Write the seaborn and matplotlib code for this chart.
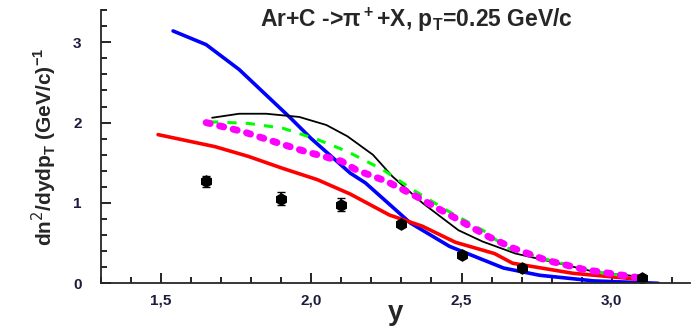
import numpy as np
import pandas as pd
import matplotlib
matplotlib.use("Agg")
import matplotlib.pyplot as plt
import seaborn as sns
from matplotlib.ticker import MultipleLocator, FuncFormatter

# experimental points
exp_y = [1.65, 1.90, 2.10, 2.30, 2.50, 2.70, 3.10]
exp_v = [1.27, 1.05, 0.98, 0.74, 0.35, 0.19, 0.07]
exp_err = [0.07, 0.08, 0.08, 0.04, 0.03, 0.03, 0.02]

# model curves
blue_y = [1.54, 1.65, 1.76, 1.93, 2.00, 2.13, 2.18, 2.33, 2.46, 2.64, 2.76, 2.94, 3.155]
blue_v = [3.14, 2.97, 2.66, 2.06, 1.80, 1.37, 1.25, 0.75, 0.46, 0.19, 0.10, 0.03, 0.0]

black_y = [1.67, 1.76, 1.85, 1.96, 2.05, 2.12, 2.205, 2.27, 2.37, 2.49, 2.57, 2.68, 2.81, 2.94, 3.10]
black_v = [2.06, 2.11, 2.11, 2.07, 1.97, 1.83, 1.60, 1.33, 1.00, 0.66, 0.52, 0.37, 0.26, 0.145, 0.08]

green_y = [1.66, 1.79, 1.905, 2.02, 2.12, 2.24, 2.34, 2.45, 2.58, 2.65, 2.81, 2.98, 3.09]
green_v = [2.01, 1.99, 1.93, 1.79, 1.64, 1.41, 1.16, 0.91, 0.64, 0.44, 0.27, 0.12, 0.08]

magenta_y = [1.65, 1.77, 1.87, 1.98, 2.10, 2.15, 2.25, 2.35, 2.49, 2.59, 2.67, 2.78, 2.91, 3.09, 3.12]
magenta_v = [2.00, 1.89, 1.77, 1.64, 1.52, 1.41, 1.27, 1.08, 0.79, 0.58, 0.44, 0.29, 0.17, 0.07, 0.07]

red_y = [1.49, 1.68, 1.79, 1.905, 2.02, 2.13, 2.26, 2.37, 2.48, 2.61, 2.67, 2.87, 3.09]
red_v = [1.85, 1.70, 1.58, 1.43, 1.29, 1.11, 0.85, 0.71, 0.51, 0.37, 0.25, 0.125, 0.05]

sns.set_style("ticks")
plt.rcParams['font.family'] = ['Liberation Sans', 'DejaVu Sans']

fig = plt.figure(figsize=(6.94, 3.30), dpi=100)
ax = fig.add_axes([0.1455, 0.1415, 0.8485, 0.828])

sns.lineplot(x=blue_y, y=blue_v, color='#0000ff', linewidth=2.6, ax=ax, sort=False)
sns.lineplot(x=red_y, y=red_v, color='#ff0000', linewidth=2.6, ax=ax, sort=False)
sns.lineplot(x=black_y, y=black_v, color='black', linewidth=1.3, ax=ax, sort=False)
ax.plot(green_y, green_v, color='#00ff00', linewidth=2.2, dashes=(3, 3))
ax.plot(magenta_y, magenta_v, color='#ff00ff', linewidth=5, dashes=(0.6, 1.4),
        dash_capstyle='round')
ax.errorbar(exp_y, exp_v, yerr=exp_err, fmt='h', color='black', markersize=8,
            capsize=3, elinewidth=1.2)

ax.set_xlim(1.3, 3.26)
ax.set_ylim(0, 3.4)
ax.xaxis.set_major_locator(MultipleLocator(0.5))
ax.xaxis.set_minor_locator(MultipleLocator(0.1))
ax.yaxis.set_major_locator(MultipleLocator(1))
ax.yaxis.set_minor_locator(MultipleLocator(0.2))
ax.xaxis.set_major_formatter(FuncFormatter(lambda v, p: f"{v:.1f}".replace('.', ',')))
ax.tick_params(which='both', direction='in', colors='black', width=1.2)
ax.tick_params(which='major', length=7, labelsize=11, labelcolor='#1c1c3c')
ax.tick_params(axis='y', which='major', pad=14)
ax.tick_params(axis='x', which='major', pad=7)
ax.tick_params(which='minor', length=4)
for lab in ax.get_xticklabels() + ax.get_yticklabels():
    lab.set_fontweight('bold')
sns.despine(ax=ax)
for s in ('left', 'bottom'):
    ax.spines[s].set_linewidth(1.3)

ax.set_xlabel('y', fontsize=20, fontweight='bold', labelpad=-5)
ax.set_ylabel(r'dn$^2$/dydp$_\mathregular{T}$ (GeV/c)$^\mathregular{-1}$', fontsize=15,
              fontweight='bold', labelpad=10)
ax.text(0.535, 0.963, r'Ar+C ->$\mathregular{\pi^+}$+X, p$_\mathregular{T}$=0.25 GeV/c',
        transform=ax.transAxes, ha='center', va='center', fontsize=16.5, fontweight='bold')

fig.savefig('out.png', dpi=100)
